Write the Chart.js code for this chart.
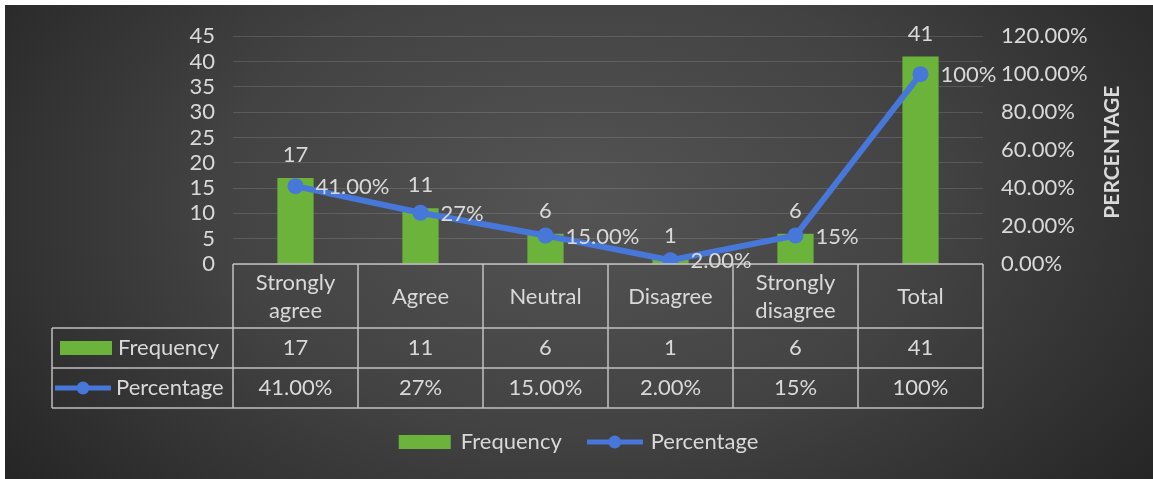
<!DOCTYPE html>
<html>
<head>
<meta charset="utf-8">
<script src="https://cdn.jsdelivr.net/npm/chart.js@4.4.1/dist/chart.umd.min.js"></script>
<style>
    html, body { margin: 0; padding: 0; background: #fff; }
    #wrap {
        position: absolute; left: 5px; top: 5px; width: 1148px; height: 474px;
        background: radial-gradient(ellipse 62% 95% at 50% 42%, #545454 0%, #434343 50%, #262626 100%);
    }
</style>
</head>
<body>
<div id="wrap"><canvas id="comboChart"></canvas></div>
<script>
// Data
const categories = [['Strongly', 'agree'], 'Agree', 'Neutral', 'Disagree', ['Strongly', 'disagree'], 'Total'];
const frequency = [17, 11, 6, 1, 6, 41];
const percentage = [41, 27, 15, 2, 15, 100];
const percentText = ['41.00%', '27%', '15.00%', '2.00%', '15%', '100%'];
const freqTicks = [0, 5, 10, 15, 20, 25, 30, 35, 40, 45];
const pctTicks = [0, 20, 40, 60, 80, 100, 120];
const pctTickLabels = ['0.00%', '20.00%', '40.00%', '60.00%', '80.00%', '100.00%', '120.00%'];

const FONT = 'Lato, "Open Sans", sans-serif';
const FS = 22;
const textColor = '#d9d9d9';
const green = '#6cb33c';
const blue = '#4677d9';

// little icons reused by the legend and the data table
function makeIcon(kind) {
    const c = document.createElement('canvas');
    c.width = 56; c.height = 18;
    const g = c.getContext('2d');
    if (kind === 'bar') {
        g.fillStyle = green;
        g.fillRect(2, 2, 52, 14);
    } else {
        g.strokeStyle = blue;
        g.lineWidth = 5;
        g.beginPath(); g.moveTo(0, 9); g.lineTo(56, 9); g.stroke();
        g.fillStyle = blue;
        g.beginPath(); g.arc(28, 9, 6.5, 0, Math.PI * 2); g.fill();
    }
    return c;
}
const barIcon = makeIcon('bar');
const lineIcon = makeIcon('line');

const valueLabels = {
    id: 'valueLabels',
    afterDatasetsDraw(chart) {
        const ctx = chart.ctx;
        ctx.save();
        ctx.font = FS + 'px ' + FONT;
        ctx.fillStyle = textColor;
        ctx.textBaseline = 'middle';
        chart.getDatasetMeta(0).data.forEach((el, i) => {
            ctx.textAlign = 'center';
            ctx.fillText(String(frequency[i]), el.x, el.y - 23);
        });
        chart.getDatasetMeta(1).data.forEach((el, i) => {
            ctx.textAlign = 'left';
            ctx.fillText(percentText[i], el.x + 20, el.y + 1);
        });
        ctx.restore();
    }
};

const dataTable = {
    id: 'dataTable',
    afterDraw(chart) {
        const {ctx, chartArea: a, scales: {x}} = chart;
        const top = a.bottom;
        const r1 = top + 64, r2 = r1 + 40, r3 = r2 + 40;
        const half = (x.getPixelForValue(1) - x.getPixelForValue(0)) / 2;
        const legLeft = a.left - 181;

        ctx.save();
        ctx.strokeStyle = 'rgba(215,215,215,0.85)';
        ctx.lineWidth = 1.5;
        ctx.beginPath();
        ctx.moveTo(a.left, top); ctx.lineTo(a.right, top);
        [r1, r2, r3].forEach(y => { ctx.moveTo(legLeft, y); ctx.lineTo(a.right, y); });
        for (let i = 0; i <= categories.length; i++) {
            const xx = i < categories.length ? x.getPixelForValue(i) - half : a.right;
            ctx.moveTo(xx, top); ctx.lineTo(xx, r3);
        }
        ctx.moveTo(legLeft, r1); ctx.lineTo(legLeft, r3);
        ctx.stroke();

        ctx.font = FS + 'px ' + FONT;
        ctx.fillStyle = textColor;
        ctx.textBaseline = 'middle';
        ctx.textAlign = 'center';
        categories.forEach((c, i) => {
            const cx = x.getPixelForValue(i);
            const mid = (top + r1) / 2;
            if (Array.isArray(c)) {
                ctx.fillText(c[0], cx, mid - 13);
                ctx.fillText(c[1], cx, mid + 15);
            } else {
                ctx.fillText(c, cx, mid + 1);
            }
            ctx.fillText(String(frequency[i]), cx, (r1 + r2) / 2);
            ctx.fillText(percentText[i], cx, (r2 + r3) / 2);
        });

        ctx.textAlign = 'left';
        ctx.drawImage(barIcon, a.left - 175, (r1 + r2) / 2 - 9);
        ctx.fillText('Frequency', a.left - 115, (r1 + r2) / 2);
        ctx.drawImage(lineIcon, a.left - 178, (r2 + r3) / 2 - 9);
        ctx.fillText('Percentage', a.left - 117, (r2 + r3) / 2);

        // right axis title, reading bottom to top
        ctx.font = 'bold 21px ' + FONT;
        ctx.textAlign = 'center';
        ctx.translate(chart.width - 41, (a.top + a.bottom) / 2 + 2);
        ctx.rotate(-Math.PI / 2);
        ctx.fillText('PERCENTAGE', 0, 0);
        ctx.restore();
    }
};

new Chart(document.getElementById('comboChart'), {
    type: 'bar',
    data: {
        labels: categories,
        datasets: [{
            type: 'bar',
            label: 'Frequency',
            data: frequency,
            backgroundColor: green,
            yAxisID: 'y',
            order: 2,
            barPercentage: 0.29,
            categoryPercentage: 1
        }, {
            type: 'line',
            label: 'Percentage',
            data: percentage,
            borderColor: blue,
            backgroundColor: blue,
            borderWidth: 6,
            pointRadius: 8,
            pointBorderWidth: 0,
            pointBackgroundColor: blue,
            tension: 0,
            yAxisID: 'y1',
            order: 1
        }]
    },
    options: {
        responsive: true,
        maintainAspectRatio: false,
        animation: false,
        layout: { padding: { top: 28, bottom: 16, left: 0, right: 0 } },
        plugins: {
            tooltip: { enabled: false },
            legend: {
                position: 'bottom',
                labels: {
                    color: textColor,
                    font: { family: FONT, size: FS },
                    usePointStyle: true,
                    pointStyleWidth: 50,
                    padding: 28,
                    sort: (p, q) => p.datasetIndex - q.datasetIndex,
                    generateLabels(chart) {
                        const items = Chart.defaults.plugins.legend.labels.generateLabels(chart);
                        items.forEach(it => { it.pointStyle = it.datasetIndex === 0 ? barIcon : lineIcon; });
                        return items;
                    }
                }
            }
        },
        scales: {
            x: {
                grid: { display: false },
                border: { display: false },
                ticks: { display: false },
                afterFit(s) { s.height = s.chart.height - 259 - s.chart.legend.height - 16; }
            },
            y: {
                position: 'left',
                min: 0,
                max: 45,
                afterBuildTicks(s) { s.ticks = freqTicks.map(v => ({ value: v })); },
                afterFit(s) { s.width = 228; },
                border: { display: false },
                grid: { color: 'rgba(255,255,255,0.13)', drawTicks: false },
                ticks: { color: textColor, font: { family: FONT, size: FS }, padding: 18, autoSkip: false }
            },
            y1: {
                position: 'right',
                min: 0,
                max: 120,
                afterBuildTicks(s) { s.ticks = pctTicks.map(v => ({ value: v })); },
                afterFit(s) { s.width = 170; },
                border: { display: false },
                grid: { display: false, drawTicks: false },
                ticks: {
                    color: textColor,
                    font: { family: FONT, size: FS },
                    padding: 18,
                    autoSkip: false,
                    callback: (v, i) => pctTickLabels[i]
                }
            }
        }
    },
    plugins: [valueLabels, dataTable]
});
</script>
</body>
</html>
